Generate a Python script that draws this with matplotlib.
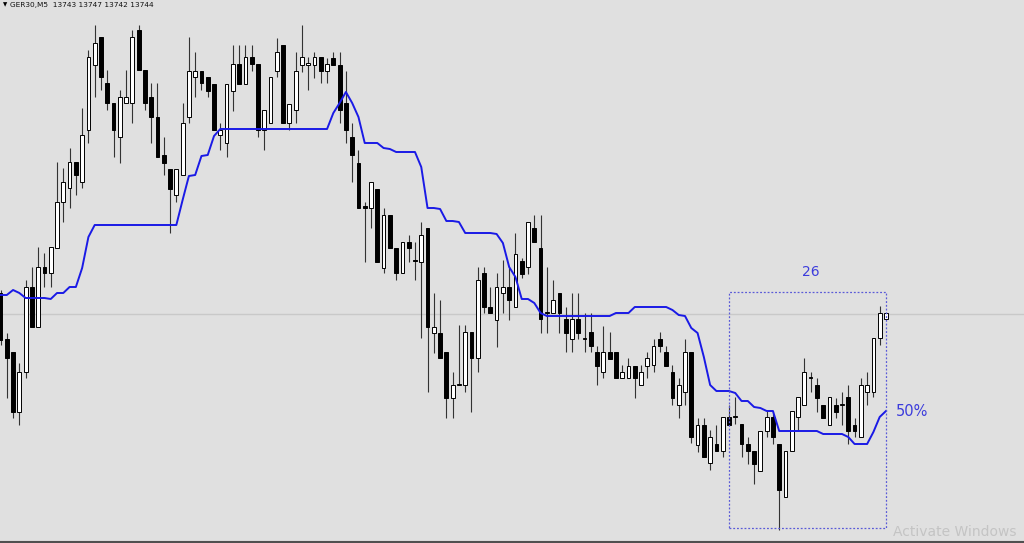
import matplotlib
matplotlib.use("Agg")
import matplotlib.pyplot as plt
from matplotlib.patches import Rectangle

# ---- data (GER30, M5) ----
opens = [13765,13719,13706,13646,13686,13771,13731,13791,13785,13810,
         13856,13870,13896,13876,13928,13993,14021,13975,13955,13921,
         13955,13955,14028,13988,13961,13941,13903,13889,13863,13883,
         13941,13981,13987,13981,13974,13923,13915,13967,13994,13974,
         14001,13994,13928,13935,13987,14013,13935,13948,13993,13993,
         13993,14001,13987,14000,13993,13955,13921,13895,13852,13850,
         13869,13790,13843,13810,13785,13816,13798,13796,13830,13725,
         13725,13706,13660,13673,13673,13726,13700,13785,13751,13738,
         13765,13771,13751,13797,13791,13830,13810,13745,13745,13765,
         13739,13719,13739,13719,13726,13706,13686,13706,13706,13680,
         13680,13692,13673,13692,13693,13719,13706,13686,13653,13666,
         13706,13613,13633,13595,13614,13607,13641,13641,13634,13614,
         13607,13587,13627,13641,13614,13561,13607,13641,13653,13680,
         13673,13653,13633,13653,13653,13661,13633,13621,13666,13666,
         13720,13739]
highs = [13768,13725,13706,13695,13778,13791,13811,13805,13811,13896,
         13890,13910,13896,13950,14008,14033,14021,13988,13955,13968,
         13988,14028,14033,13988,13975,13975,13921,13889,13889,13955,
         14021,14006,13987,13981,13974,13935,13974,14013,14013,14013,
         14013,13994,13948,13981,14020,14013,13954,14006,14033,14001,
         14006,14001,14000,14006,14006,13987,13935,13908,13856,13876,
         13869,13850,13843,13810,13816,13823,13816,13836,13830,13765,
         13758,13706,13686,13733,13733,13726,13791,13791,13771,13785,
         13798,13791,13825,13800,13836,13843,13843,13791,13778,13765,
         13751,13765,13765,13745,13745,13712,13732,13726,13706,13693,
         13700,13692,13693,13706,13719,13726,13712,13693,13680,13719,
         13706,13640,13640,13628,13633,13641,13653,13661,13634,13621,
         13607,13627,13647,13647,13614,13607,13647,13661,13700,13686,
         13680,13653,13661,13660,13666,13673,13640,13680,13686,13720,
         13752,13745]
lows = [13713,13660,13640,13633,13680,13731,13731,13771,13771,13810,
        13836,13850,13863,13870,13915,13961,13968,13948,13901,13895,
        13955,13935,13988,13948,13915,13901,13883,13825,13856,13883,
        13935,13961,13968,13961,13928,13908,13901,13947,13974,13974,
        13987,13921,13908,13935,13981,13935,13928,13935,13986,13968,
        13980,13975,13975,13993,13935,13915,13876,13850,13796,13830,
        13796,13785,13810,13778,13785,13796,13778,13720,13666,13705,
        13700,13640,13640,13673,13666,13646,13686,13745,13745,13711,
        13745,13738,13751,13780,13784,13816,13725,13725,13745,13725,
        13706,13706,13719,13706,13706,13673,13680,13699,13680,13680,
        13680,13660,13673,13680,13686,13706,13692,13653,13640,13653,
        13615,13606,13601,13588,13607,13601,13633,13634,13601,13594,
        13574,13587,13621,13614,13528,13561,13607,13627,13653,13666,
        13646,13640,13633,13640,13633,13614,13621,13621,13653,13661,
        13713,13739]
closes = [13718,13700,13646,13686,13771,13731,13791,13785,13811,13856,
          13876,13896,13883,13923,14001,14015,13981,13955,13928,13961,
          13961,14021,13988,13955,13941,13901,13895,13869,13889,13935,
          13987,13987,13975,13967,13928,13928,13974,13994,13974,14001,
          13994,13928,13948,13981,14006,13935,13954,13987,14001,13995,
          14001,13987,13994,13993,13948,13928,13903,13850,13850,13876,
          13796,13843,13810,13785,13816,13810,13797,13823,13731,13731,
          13700,13660,13673,13674,13726,13700,13778,13751,13745,13771,
          13771,13758,13804,13784,13836,13816,13739,13746,13758,13745,
          13725,13739,13725,13720,13712,13692,13706,13699,13680,13686,
          13692,13680,13686,13700,13712,13712,13692,13660,13673,13706,
          13621,13633,13601,13621,13607,13641,13633,13642,13614,13607,
          13594,13627,13641,13621,13568,13607,13647,13661,13686,13681,
          13660,13640,13661,13646,13654,13627,13627,13673,13673,13720,
          13745,13745]
# 26-period 50% line as drawn on the chart
midline = [13763,13763,13768,13765,13760,13760,13760,13760,13759,13765,
           13765,13771,13771,13790,13821,13833,13833,13833,13833,13833,
           13833,13833,13833,13833,13833,13833,13833,13833,13833,13858,
           13882,13883,13902,13903,13922,13929,13929,13929,13929,13929,
           13929,13929,13929,13929,13929,13929,13929,13929,13929,13929,
           13929,13929,13929,13945,13955,13966,13955,13941,13915,13915,
           13915,13910,13909,13906,13906,13906,13906,13891,13850,13850,
           13849,13837,13837,13836,13825,13825,13825,13825,13825,13824,
           13815,13791,13781,13759,13759,13755,13745,13742,13742,13742,
           13742,13742,13742,13742,13742,13742,13742,13742,13745,13745,
           13745,13751,13751,13751,13751,13751,13751,13748,13743,13742,
           13730,13725,13701,13673,13667,13667,13667,13665,13657,13657,
           13651,13650,13647,13647,13627,13627,13627,13627,13627,13627,
           13627,13624,13624,13624,13624,13621,13614,13614,13614,13626,
           13641,13647]

symbol = "GER30,M5"
last_ohlc = ["13743", "13747", "13742", "13744"]
current_price = 13744
box_start, box_end = 116, 141
box_top, box_bottom = 13766, 13530
period_label = "26"
level_label = "50%"

bg = "#e0e0e0"
fig = plt.figure(figsize=(10.24, 5.43), dpi=100, facecolor=bg)
ax = fig.add_axes([0, 0, 1, 1])
ax.set_facecolor(bg)
ax.set_axis_off()

n = len(opens)
xs = list(range(n))

# current price line
ax.axhline(current_price, color="#c9c9c9", lw=1.0, zorder=1)

# wicks
ax.vlines(xs, lows, highs, color="#333333", lw=0.8, zorder=2)
# bodies
bottoms = [min(o, c) for o, c in zip(opens, closes)]
heights = [max(abs(c - o), 0.8) for o, c in zip(opens, closes)]
faces = ["white" if c >= o else "black" for o, c in zip(opens, closes)]
ax.bar(xs, heights, bottom=bottoms, width=0.6, color=faces,
       edgecolor="black", linewidth=0.7, zorder=3)

# 50% line
ax.plot(xs, midline, color="#1a1ae6", lw=1.4, zorder=4)

# dotted box
ax.add_patch(Rectangle((box_start, box_bottom), box_end - box_start,
                       box_top - box_bottom, fill=False,
                       edgecolor="#5a5ad8", lw=0.9, ls=(0, (1.5, 1.5)),
                       zorder=5))
ax.text((box_start + box_end) / 2 + 0.5, box_top + 20, period_label,
        color="#3c3cdc", fontsize=10, ha="center", va="center")
ax.text(box_end + 1.6, midline[-1], level_label, color="#3c3cdc",
        fontsize=10.5, ha="left", va="center")

ax.set_xlim(-0.08, 162.98)
ax.set_ylim(13515, 14058)

# header
fig.text(3 / 1024, 1 - 4.5 / 543, "\u25BC", fontsize=4, color="black",
         ha="left", va="center")
fig.text(10 / 1024, 1 - 4.5 / 543,
         symbol + "  " + " ".join(last_ohlc), fontsize=5.3,
         color="#111111", ha="left", va="center")

# watermark
fig.text(893 / 1024, 1 - 532 / 543, "Activate Windows", fontsize=10,
         color="#c4c4c4", ha="left", va="center")

# bottom border
fig.add_artist(plt.Line2D([0, 1], [1.5 / 543, 1.5 / 543],
                          transform=fig.transFigure, color="#505050", lw=1.5))

fig.savefig("out.png", dpi=100, facecolor=bg)
